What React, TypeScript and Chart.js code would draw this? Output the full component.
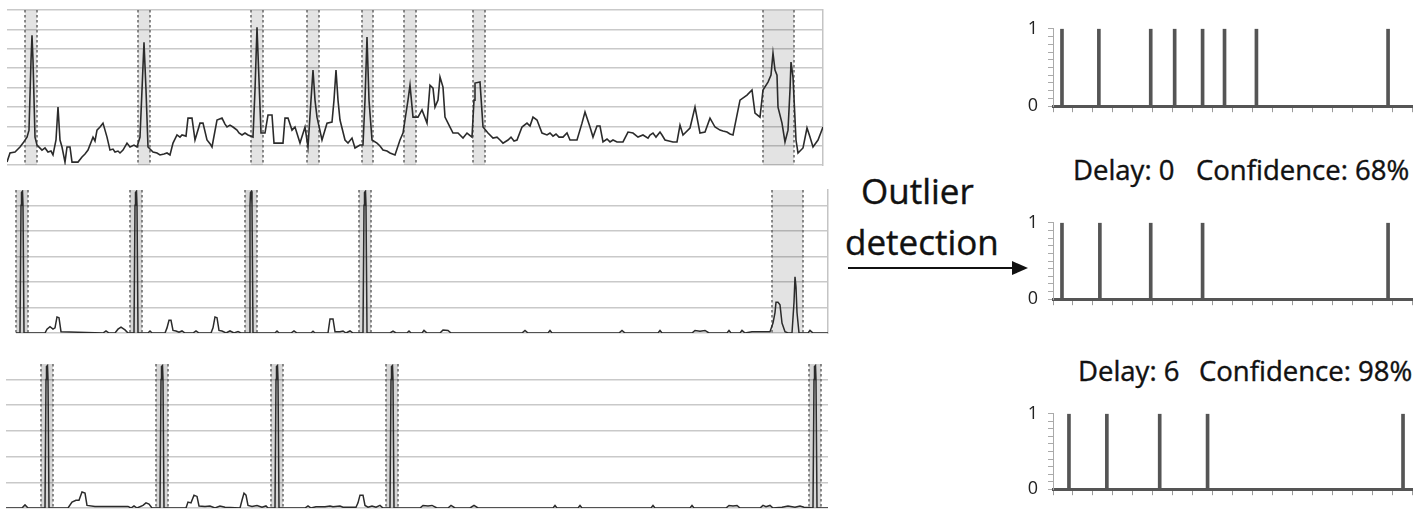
import React, { useEffect, useRef } from "react";
import { Chart, registerables } from "chart.js";

Chart.register(...registerables);

// ---- Raw metric (top left), [time, value] ----
const rawSeries: [number, number][] = [
  [0, 1.5], [3, 6.2], [8, 6.7], [13, 9.3], [16, 11.3], [20, 14.4], [22, 18], [24, 54], [25, 67], [26, 54],
  [28, 14.4], [30, 10.3], [35, 7.7], [38, 8.8], [41, 6.7], [44, 7.2], [46, 5.2], [49, 12.9], [51, 29.9], [53, 12.9], [55, 9.3], [58, 1.5],
  [60, 9.3], [63, 9.3], [65, 1.5], [71, 1.5], [75, 4.1], [78, 5.7], [81, 7.7], [86, 14.4], [88, 12.4], [90, 18], [93, 19.6], [96, 21.6],
  [100, 14.4], [103, 7.7], [106, 8.2], [108, 6.7], [111, 7.2], [113, 6.2], [116, 7.7], [120, 11.3], [123, 9.3], [127, 10.3], [130, 9.3], [133, 14.4],
  [135, 38.7], [137, 63.4], [139, 38.7], [141, 9.3], [146, 6.7], [150, 6.2], [153, 5.2], [157, 5.7], [160, 6.2], [163, 5.2], [166, 11.3], [170, 15.5],
  [173, 14.4], [175, 15.5], [179, 14.9], [181, 24.2], [185, 24.2], [188, 12.9], [193, 21.6], [196, 21.6], [200, 12.9], [203, 11], [205, 9.3], [210, 23.2],
  [215, 24.2], [218, 21.1], [220, 19.6], [223, 20.6], [226, 19.6], [230, 18], [232, 16.5], [235, 15.5], [238, 16.5], [241, 15.5], [246, 14.4], [248, 38.7], [250, 71.1], [252, 43.8],
  [254, 16.5], [258, 16.5], [261, 25.8], [265, 25.8], [267, 11.3], [272, 11.3], [276, 11.3], [278, 24.2], [281, 24.2], [285, 18], [288, 19.6],
  [293, 11.3], [298, 19.6], [301, 9.3], [304, 33.5], [306, 49], [308, 33.5], [310, 24.7], [315, 12.9], [320, 21.6], [325, 22.2],
  [327, 33.5], [329, 49], [331, 33.5], [333, 23.2], [338, 12.9], [341, 11.3], [345, 13.9], [348, 8.8], [353, 10.3], [356, 10.3],
  [358, 33.5], [360, 66], [362, 33.5], [365, 12.9], [370, 11.3], [373, 9.8], [376, 7.7], [380, 7.2], [383, 6.2], [388, 5.2], [393, 12.9], [396, 16.5],
  [401, 33.5], [403, 41.2], [406, 24.7], [411, 24.7], [415, 28.4], [420, 21.6], [423, 41.2], [426, 39.7], [428, 29.9], [431, 33.5],
  [433, 45.4], [436, 40.2], [438, 24.7], [443, 19.6], [446, 16.5], [451, 16.5], [456, 13.9], [460, 16.5], [465, 14.4], [467, 33.5],
  [468, 42.3], [473, 42.8], [476, 19.6], [481, 16.5], [486, 13.9], [490, 14.4], [493, 12.9], [496, 11.3], [501, 12.9], [504, 14.4], [507, 12.4], [510, 12.9], [515, 19.6],
  [520, 21.6], [523, 20.1], [526, 24.7], [530, 23.2], [535, 16.5], [540, 15.5], [543, 16.5], [546, 14.9], [549, 16], [552, 14.4], [556, 14.4], [560, 16.5], [563, 12.9], [570, 12.9],
  [575, 21.6], [578, 27.3], [583, 19.6], [586, 14.4], [590, 20.1], [593, 20.1], [596, 11.9], [600, 13.4], [603, 11.9], [606, 12.9], [610, 11.9], [616, 11.9], [621, 17],
  [626, 16.5], [631, 14.4], [636, 15.5], [641, 13.9], [643, 15.5], [646, 16.5], [649, 14.4], [653, 17], [655, 15.5], [658, 12.9], [662, 12.4], [666, 11.9], [670, 11.9], [673, 20.6], [676, 15.5],
  [683, 19.1], [688, 29.9], [693, 16.5], [698, 17], [703, 24.2], [708, 19.6], [713, 18], [716, 17.5], [720, 17], [723, 16], [726, 15.5], [733, 33.5],
  [740, 36.1], [745, 38.7], [748, 26.8], [753, 24.7], [756, 38.7], [761, 42.8], [764, 46.4], [766, 57.7], [768, 49], [770, 46.4],
  [771, 29.9], [775, 21.6], [778, 11.9], [781, 18], [783, 38.7], [784, 53.1], [786, 45.4], [789, 12.9], [791, 6.2], [796, 8.8],
  [800, 19.1], [803, 14.4], [806, 9.3], [811, 12.9], [816, 19.6],
];
const rawBands: [number, number][] = [
  [18, 30], [131, 143], [244, 256], [300, 312], [355, 366], [397, 409], [466, 478], [756, 787],
];

// ---- Residual after delay 0 (middle left) ----
const residual0: [number, number][] = [
  [0, 0], [4, 0], [5, 50], [5.5, 55], [6.5, 55.5], [7, 50], [8, 0],
  [29, 0], [31, 1.5], [34, 2.5], [37, 1.5], [39, 2], [41, 6.3], [43, 6], [45, 0.5],
  [87, 0], [90, 0.8], [93, 0], [99, 0], [102, 1.5], [105, 2.3], [109, 1.2], [112, 0],
  [118, 0], [119, 50], [119.5, 55], [120.5, 55.5], [121, 50], [122, 0],
  [132, 0], [134, 0.8], [136, 0], [149, 0], [151, 2], [153, 5], [155, 5], [157, 1], [160, 0.8], [163, 0.3], [166, 0.8], [169, 0],
  [177, 0], [180, 0.8], [183, 0], [195, 0], [197, 2], [199, 6.3], [201, 6], [203, 1], [206, 0.8], [210, 0], [214, 0.8], [218, 0],
  [222, 0.6], [225, 0],
  [233, 0], [234, 50], [234.5, 55], [235.5, 55.5], [236, 50], [237, 0],
  [259, 0], [261, 0.8], [263, 0], [275, 0], [278, 0.8], [281, 0], [295, 0], [297, 0.7], [299, 0],
  [312, 0], [314, 5.5], [317, 5.5], [319, 0.5], [324, 0.5], [327, 0.8], [330, 0], [334, 0.8], [337, 0],
  [347, 0], [348, 50], [348.5, 55], [349.5, 55.5], [350, 50], [351, 0],
  [374, 0], [377, 0.7], [380, 0], [391, 0], [393, 0.8], [395, 0], [406, 0], [408, 1], [411, 0], [424, 0], [427, 1.2], [432, 1],
  [435, 0], [506, 0], [509, 1], [512, 0], [532, 0], [534, 1], [536, 0], [603, 0], [606, 1], [609, 0], [642, 0], [644, 1], [646, 0],
  [676, 0], [679, 1], [684, 0.7], [689, 1], [693, 0], [711, 0], [713, 1], [715, 0], [724, 0], [726, 1], [729, 0],
  [736, 0.5], [754, 0.5], [757, 3.9], [759, 8], [760, 12], [762, 12], [764, 11], [766, 3.9], [769, 0.5], [772, 0], [776, 0],
  [778, 12], [779, 22], [780, 18], [781, 8], [783, 0], [792, 0], [794, 1], [797, 0], [812, 0],
];
const residual0Bands: [number, number][] = [
  [0, 12], [114, 126], [229, 241], [343, 355],
];
const residual0Wide: [number, number][] = [[756, 787]];

// ---- Residual after delay 6 (bottom left) ----
const residual6: [number, number][] = [
  [0, 0], [16, 0], [19, 1.2], [22, 0],
  [39, 0], [40, 50], [40.5, 55], [41.5, 55.4], [42, 50], [43, 0],
  [62, 0], [66, 2.3], [70, 3], [73, 3], [76, 6.2], [79, 5.8], [81, 1], [89, 0.6], [122, 0.6], [125, 0], [128, 0.8], [131, 0],
  [137, 1], [140, 2], [143, 1.5], [146, 0],
  [154, 0], [155, 50], [155.5, 55], [156.5, 55.4], [157, 50], [158, 0],
  [180, 0], [182, 2.3], [185, 2], [188, 5], [191, 4.5], [193, 0.8], [199, 0.6], [204, 0.8], [209, 0], [214, 0.8], [219, 0.3],
  [234, 0], [236, 3], [238, 5.8], [240, 5], [242, 1], [246, 0.6], [251, 1], [256, 0.3], [260, 0.8], [262, 0],
  [269, 0], [270, 50], [270.5, 55], [271.5, 55.4], [272, 50], [273, 0],
  [299, 0], [302, 0.8], [305, 0], [310, 0.5], [319, 0.5], [324, 0.8], [327, 0.5], [334, 0.8], [337, 0.3],
  [350, 0.3], [352, 2], [354, 5], [357, 5], [359, 1], [362, 0.3], [366, 0.8], [370, 0.3], [374, 1], [377, 0],
  [384, 0], [385, 50], [385.5, 55], [386.5, 55.4], [387, 50], [388, 0],
  [414, 0], [417, 1], [422, 0.8], [426, 1], [431, 0], [442, 0], [445, 1], [449, 0], [464, 0], [468, 1], [472, 0],
  [547, 0], [549, 1], [551, 0], [572, 0], [574, 1], [576, 0], [645, 0], [647, 1], [649, 0], [684, 0], [686, 1], [688, 0],
  [720, 0], [723, 1], [727, 0.8], [731, 1], [734, 0], [754, 0], [757, 1], [760, 0.5], [764, 1], [767, 0],
  [776, 0.3], [782, 0.8], [789, 0.3], [794, 0.8], [798, 0.3],
  [807, 0], [808, 50], [808.5, 55], [809.5, 55.4], [810, 50], [811, 0], [822, 0],
];
const residual6Bands: [number, number][] = [
  [35, 47], [150, 162], [265, 277], [380, 392], [803, 815],
];

// ---- Detected outlier positions (right column) ----
const outliersRaw = [4.5, 23, 49, 61, 75, 86, 102, 168];
const outliersDelay0 = [4.5, 23.5, 49, 75, 168];
const outliersDelay6 = [8, 27, 53.5, 77.5, 175.5];

// Shaded time windows with dashed edges, placed through the x scale.
const bandsPlugin = {
  id: "bands",
  beforeDatasetsDraw(chart: any, _args: any, opts: any) {
    const groups = opts && opts.groups;
    if (!groups) return;
    const { ctx, chartArea } = chart;
    const xs = chart.scales.x;
    ctx.save();
    for (const g of groups) {
      for (const [a, b] of g.ranges) {
        const x1 = xs.getPixelForValue(a);
        const x2 = xs.getPixelForValue(b);
        ctx.fillStyle = g.fill;
        ctx.fillRect(x1, chartArea.top, x2 - x1, chartArea.bottom - chartArea.top);
        ctx.strokeStyle = g.edge;
        ctx.lineWidth = 1.5;
        ctx.setLineDash([2.5, 2.5]);
        for (const x of [x1, x2]) {
          ctx.beginPath();
          ctx.moveTo(x, chartArea.top);
          ctx.lineTo(x, chartArea.bottom);
          ctx.stroke();
        }
      }
    }
    ctx.restore();
  },
};

type Pad = { top: number; right: number; bottom: number; left: number };

function seriesConfig(
  points: [number, number][],
  xMax: number,
  yMax: number,
  groups: any[],
  pad: Pad,
  rightBorder: boolean,
  width: number
) {
  return {
    type: "line",
    data: {
      datasets: [
        {
          data: points.map(([x, y]) => ({ x, y })),
          borderColor: "#2b2b2b",
          borderWidth: width,
          pointRadius: 0,
          tension: 0,
          fill: false,
        },
      ],
    },
    options: {
      animation: false,
      responsive: false,
      maintainAspectRatio: false,
      layout: { padding: pad },
      plugins: {
        legend: { display: false },
        tooltip: { enabled: false },
        bands: { groups },
      },
      scales: {
        x: { type: "linear", min: 0, max: xMax, display: false },
        y: {
          min: 0,
          max: yMax,
          ticks: { display: false, stepSize: 10 },
          border: { display: false },
          grid: {
            drawTicks: false,
            lineWidth: 1.5,
            color: (c: any) => (c.tick && Math.abs(c.tick.value % 10) < 1e-6 ? "#c9c9c9" : "rgba(0,0,0,0)"),
          },
          afterFit: (s: any) => {
            s.width = 0;
          },
        },
        yR: {
          position: "right",
          min: 0,
          max: yMax,
          display: rightBorder,
          ticks: { display: false },
          grid: { display: false, drawTicks: false },
          border: { display: true, color: "#c4c4c4", width: 1.5 },
          afterFit: (s: any) => {
            s.width = 0;
          },
        },
      },
    },
    plugins: [bandsPlugin],
  };
}

function outlierConfig(positions: number[]) {
  return {
    type: "bar",
    data: {
      datasets: [
        {
          data: positions.map((x) => ({ x, y: 1 })),
          backgroundColor: "#555",
          borderWidth: 0,
          barThickness: 3,
        },
      ],
    },
    options: {
      animation: false,
      responsive: false,
      maintainAspectRatio: false,
      layout: { padding: { top: 0, right: 6, bottom: 0, left: 0 } },
      plugins: { legend: { display: false }, tooltip: { enabled: false } },
      scales: {
        x: {
          type: "linear",
          min: 0,
          max: 180,
          offset: false,
          ticks: { display: false, stepSize: 10 },
          grid: { offset: false, drawOnChartArea: false, drawTicks: true, tickLength: 6, color: "#9a9a9a", lineWidth: 1 },
          border: { display: true, color: "#555", width: 3 },
          afterFit: (s: any) => {
            s.height = 8;
          },
        },
        y: {
          min: 0,
          max: 1,
          ticks: {
            stepSize: 0.1,
            autoSkip: false,
            padding: 10,
            color: "#222",
            font: { family: "'Open Sans', sans-serif", size: 18 },
            callback: (v: any) => (Math.abs(v) < 1e-6 ? "0" : Math.abs(v - 1) < 1e-6 ? "1" : ""),
          },
          grid: { drawOnChartArea: false, tickLength: 5, color: "#aaa", lineWidth: 1 },
          border: { display: true, color: "#aaa", width: 1 },
          afterFit: (s: any) => {
            s.width = 33;
          },
        },
      },
    },
  };
}

function ChartBox(props: { left: number; top: number; width: number; height: number; config: any }) {
  const ref = useRef<HTMLCanvasElement>(null);
  useEffect(() => {
    if (!ref.current) return;
    const chart = new Chart(ref.current, props.config);
    return () => chart.destroy();
  }, []);
  return (
    <canvas
      ref={ref}
      width={props.width}
      height={props.height}
      style={{ position: "absolute", left: props.left, top: props.top, width: props.width, height: props.height }}
    />
  );
}

const textStyle = (left: number, top: number, size: number): React.CSSProperties => ({
  position: "absolute",
  left,
  top,
  fontSize: size,
  lineHeight: `${size}px`,
  whiteSpace: "nowrap",
  color: "#111",
  WebkitTextStroke: "0.4px #111",
});

export default function App() {
  const narrow = { fill: "rgba(0,0,0,0.16)", edge: "#666" };
  const wide = { fill: "rgba(0,0,0,0.11)", edge: "#666" };
  return (
    <div
      style={{
        position: "fixed",
        left: 0,
        top: 0,
        width: 1418,
        height: 512,
        background: "#fff",
        overflow: "hidden",
        fontFamily: "'Open Sans', sans-serif",
      }}
    >
      <ChartBox
        left={0}
        top={4}
        width={830}
        height={166}
        config={seriesConfig(rawSeries, 816, 80, [{ ...wide, ranges: rawBands }], { top: 6, right: 7, bottom: 5, left: 7 }, true, 1.6)}
      />
      <ChartBox
        left={0}
        top={180}
        width={836}
        height={160}
        config={seriesConfig(
          residual0,
          812,
          56,
          [{ ...narrow, ranges: residual0Bands }, { ...wide, ranges: residual0Wide }],
          { top: 10, right: 8, bottom: 7, left: 16 },
          true,
          1.5
        )}
      />
      <ChartBox
        left={0}
        top={356}
        width={836}
        height={156}
        config={seriesConfig(residual6, 822, 56, [{ ...narrow, ranges: residual6Bands }], { top: 8, right: 8, bottom: 4, left: 6 }, false, 1.5)}
      />

      <div style={textStyle(861, 173, 35)}>Outlier</div>
      <div style={textStyle(845, 224, 35)}>detection</div>
      <svg style={{ position: "absolute", left: 845, top: 258 }} width={190} height={20}>
        <line x1={3} y1={10} x2={172} y2={10} stroke="#111" strokeWidth={2} />
        <polygon points="167,3 183,10 167,17" fill="#111" />
      </svg>

      <ChartBox left={1020} top={8} width={398} height={119} config={outlierConfig(outliersRaw)} />

      <div style={textStyle(1073, 156, 27.5)}>Delay: 0</div>
      <div style={textStyle(1196, 156, 27.5)}>Confidence: 68%</div>
      <ChartBox left={1020} top={202} width={398} height={118} config={outlierConfig(outliersDelay0)} />

      <div style={textStyle(1078, 357, 27.5)}>Delay: 6</div>
      <div style={textStyle(1199, 357, 27.5)}>Confidence: 98%</div>
      <ChartBox left={1020} top={393} width={398} height={117} config={outlierConfig(outliersDelay6)} />
    </div>
  );
}
